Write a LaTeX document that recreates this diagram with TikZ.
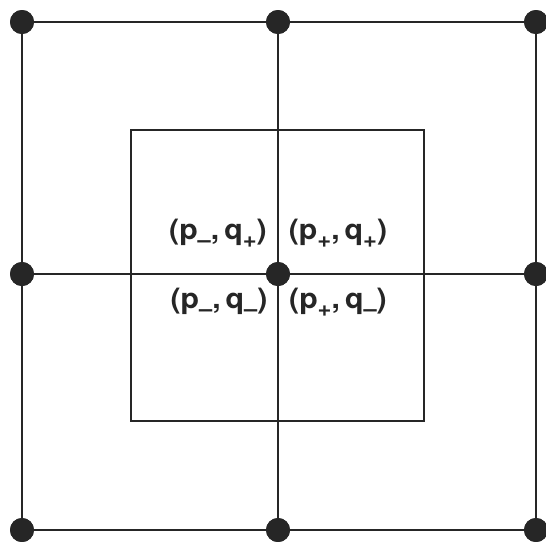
\documentclass[tikz,border=0pt]{standalone}
\usepackage{fontspec}
\setmainfont{TeX Gyre Heros}
\newcommand{\lowsign}[1]{\raisebox{-0.3em}{\fontsize{22}{22}\selectfont #1}}
\newcommand{\lbl}[2]{\scalebox{1.08}[1]{(p\lowsign{#1},\,q\lowsign{#2})}}
\begin{document}
\begin{tikzpicture}[x=1pt,y=-1pt,
  dot/.style={circle,fill=black!85,inner sep=0pt,minimum size=24pt},
  gridline/.style={line width=1.8pt,black!85},
  lab/.style={font=\bfseries\fontsize{28}{28}\selectfont,inner sep=0pt,text=black!85}]
\useasboundingbox (0,0) rectangle (546,541);
\node[dot] (tl) at (22,22) {};
\node[dot] (tm) at (278,22) {};
\node[dot] (tr) at (536,22) {};
\node[dot] (ml) at (22,274) {};
\node[dot] (mm) at (278,274) {};
\node[dot] (mr) at (536,274) {};
\node[dot] (bl) at (22,530) {};
\node[dot] (bm) at (278,530) {};
\node[dot] (br) at (536,530) {};
\node[draw,gridline,minimum width=293pt,minimum height=291pt,inner sep=0pt] (inner) at (277.5,275.5) {};
\draw[gridline] (tl.center) -- (tr.center) -- (br.center) -- (bl.center) -- cycle;
\draw[gridline] (tm.center) -- (bm.center);
\draw[gridline] (ml.center) -- (mr.center);
\node[dot] at (tl) {};\node[dot] at (tm) {};\node[dot] at (tr) {};
\node[dot] at (ml) {};\node[dot] at (mm) {};\node[dot] at (mr) {};
\node[dot] at (bl) {};\node[dot] at (bm) {};\node[dot] at (br) {};
\node[lab] (a) at (218,233) {\lbl{–}{+}};
\node[lab] (b) at (338,233) {\lbl{+}{+}};
\node[lab] (c) at (219,302) {\lbl{–}{–}};
\node[lab] (d) at (338,302) {\lbl{+}{–}};
\end{tikzpicture}
\end{document}
